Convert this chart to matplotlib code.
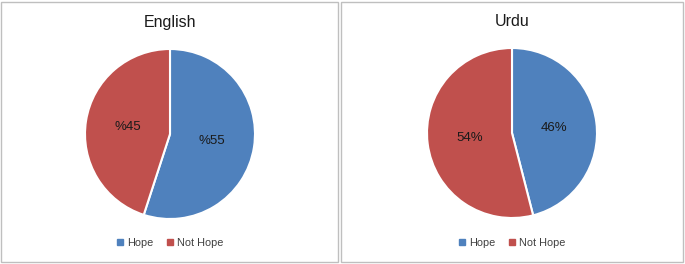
import numpy as np
import matplotlib
matplotlib.use('Agg')
import matplotlib.pyplot as plt
from matplotlib.patches import Rectangle
from matplotlib.lines import Line2D

plt.rcParams['font.family'] = ['Liberation Sans', 'DejaVu Sans']

# Data
categories = ['Hope', 'Not Hope']
english_vals = [55, 45]
english_labels = ['%55', '%45']
urdu_vals = [46, 54]
urdu_labels = ['46%', '54%']
colors = ['#4F81BD', '#C0504D']

W, H = 685, 264
fig = plt.figure(figsize=(W / 100, H / 100), dpi=100)

# panel borders
for x0, x1 in [(1, 338), (341, 683)]:
    fig.patches.append(Rectangle((x0 / W, 2 / H), (x1 - x0) / W, (H - 4) / H,
                                 transform=fig.transFigure, fill=False,
                                 edgecolor='#BFBFBF', linewidth=1))

def draw_pie(cx, cy, r, vals, labels, title):
    ax = fig.add_axes([(cx - r) / W, (H - cy - r) / H, 2 * r / W, 2 * r / H])
    wedges, texts = ax.pie(vals, colors=colors, startangle=90, counterclock=False,
                           labels=labels, labeldistance=0.5,
                           wedgeprops=dict(edgecolor='white', linewidth=1.5),
                           textprops=dict(fontsize=9.5, color='#1a1a1a'))
    for t in texts:
        t.set_ha('center')
        t.set_va('center')
    ax.set_xlim(-1, 1)
    ax.set_ylim(-1, 1)
    ax.set_aspect('equal')
    fig.text(cx / W, 1 - 22 / H, title, ha='center', va='center', fontsize=11.5, color='#1a1a1a')
    handles = [Line2D([], [], marker='s', linestyle='none', markersize=4,
                      markerfacecolor=c, markeredgecolor=c) for c in colors]
    fig.legend(handles, categories, loc='center', bbox_to_anchor=(cx / W, 1 - 243 / H),
               ncol=2, frameon=False, fontsize=7.8, handlelength=0.6, handletextpad=0.4,
               columnspacing=1.2, labelcolor='#404040')

draw_pie(170, 134, 85, english_vals, english_labels, 'English')
draw_pie(512, 133, 85, urdu_vals, urdu_labels, 'Urdu')

fig.savefig('out.png', dpi=100)
